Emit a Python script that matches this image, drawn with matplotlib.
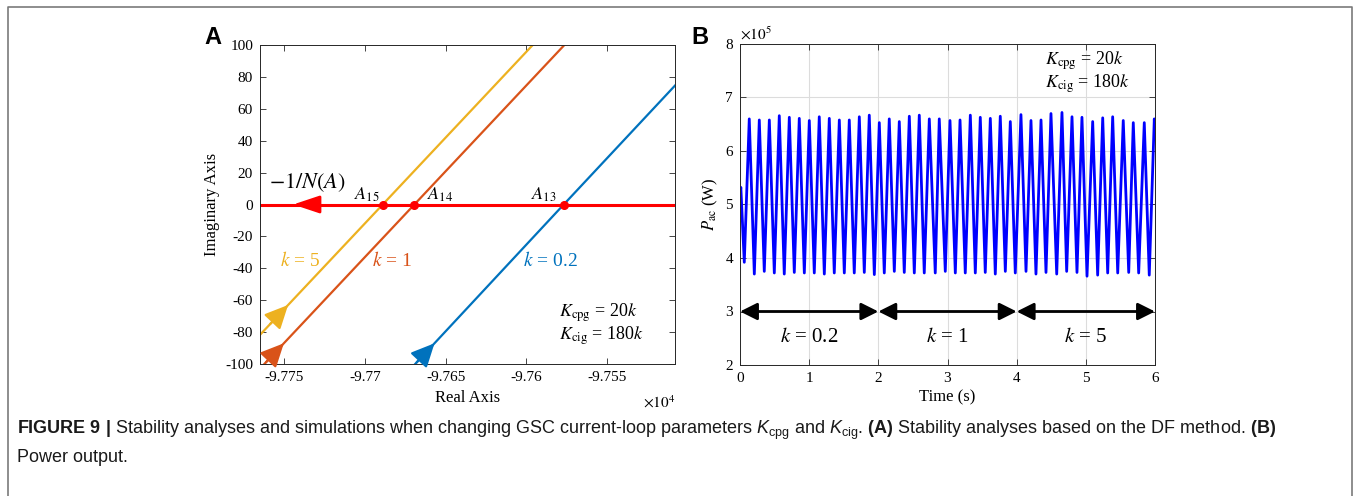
import numpy as np
import matplotlib.pyplot as plt
from matplotlib.lines import Line2D

plt.rcParams['font.family'] = ['Liberation Serif', 'DejaVu Serif']
plt.rcParams['mathtext.fontset'] = 'stix'
plt.rcParams['mathtext.rm'] = 'Liberation Sans'
plt.rcParams['mathtext.it'] = 'Liberation Sans:italic'
plt.rcParams['mathtext.bf'] = 'Liberation Sans:bold'

# ---- panel A data (real axis in units of 1e4) ----
k5_real = [-9.77820, -9.76890, -9.75961]
k5_imag = [-100, 0, 100]
k1_real = [-9.77623, -9.76694, -9.75765]
k1_imag = [-100, 0, 100]
k02_real = [-9.76689, -9.75769, -9.75076]
k02_imag = [-100, 0, 75]
df_real = [-9.7765, -9.7508]
df_imag = [0, 0]
cross_real = [-9.76890, -9.76694, -9.75769]
cross_names = ['$A_{15}$', '$A_{14}$', '$A_{13}$']
xt_a = [-9.775, -9.77, -9.765, -9.76, -9.755]
xt_a_lab = ['-9.775', '-9.77', '-9.765', '-9.76', '-9.755']
yt_a = [-100, -80, -60, -40, -20, 0, 20, 40, 60, 80, 100]

# ---- panel B data (power in units of 1e5 W) ----
start_t = [0.0, 0.012]
start_p = [5.20, 5.32]
trough_t = [0.062, 0.207, 0.351, 0.496, 0.640, 0.785, 0.930, 1.074, 1.219, 1.363,
            1.508, 1.652, 1.797, 1.942, 2.086, 2.231, 2.375, 2.520, 2.664, 2.823,
            2.968, 3.113, 3.257, 3.402, 3.546, 3.691, 3.836, 3.980, 4.135, 4.279,
            4.424, 4.579, 4.723, 4.872, 5.017, 5.171, 5.316, 5.461, 5.620, 5.764, 5.917]
trough_p = [3.92, 3.70, 3.75, 3.72, 3.70, 3.73, 3.72, 3.72, 3.70, 3.72,
            3.72, 3.72, 3.73, 3.69, 3.72, 3.75, 3.73, 3.72, 3.72, 3.72,
            3.75, 3.72, 3.72, 3.72, 3.73, 3.70, 3.75, 3.72, 3.75, 3.70,
            3.73, 3.70, 3.75, 3.73, 3.66, 3.68, 3.72, 3.72, 3.73, 3.72, 3.68]
peak_t = [0.134, 0.279, 0.424, 0.568, 0.713, 0.857, 1.002, 1.146, 1.291, 1.436,
          1.580, 1.725, 1.869, 2.014, 2.158, 2.303, 2.448, 2.592, 2.737, 2.881,
          3.036, 3.181, 3.330, 3.474, 3.619, 3.763, 3.908, 4.062, 4.207, 4.352,
          4.496, 4.655, 4.800, 4.944, 5.099, 5.244, 5.388, 5.541, 5.686, 5.845, 5.990]
peak_p = [6.60, 6.58, 6.58, 6.66, 6.63, 6.61, 6.57, 6.64, 6.61, 6.58,
          6.58, 6.64, 6.67, 6.53, 6.60, 6.55, 6.65, 6.67, 6.60, 6.60,
          6.57, 6.58, 6.67, 6.63, 6.61, 6.65, 6.55, 6.68, 6.57, 6.58,
          6.70, 6.72, 6.64, 6.63, 6.55, 6.62, 6.64, 6.57, 6.53, 6.53, 6.60]
end_t = [6.0]
end_p = [6.22]
seg_edges = [0, 2, 4, 6]
seg_labels = ['$k$ = 0.2', '$k$ = 1', '$k$ = 5']

blue = '#0072BD'
orange = '#D95319'
yellow = '#EDB120'

fig = plt.figure(figsize=(13.56, 4.96), dpi=100)

# ================= panel A =================
ax = fig.add_axes([260/1356, 132/496, 415/1356, 319/496])
ax.plot(k5_real, k5_imag, color=yellow, lw=1.6)
ax.plot(k1_real, k1_imag, color=orange, lw=1.6)
ax.plot(k02_real, k02_imag, color=blue, lw=1.6)
ax.plot(df_real, df_imag, color='#FF0000', lw=2.2)
ax.plot(cross_real, [0]*3, 'o', color='#FF0000', ms=5.5)

# direction arrows on the curves
for re, im, c, ytip in [(k5_real, k5_imag, yellow, -63),
                        (k1_real, k1_imag, orange, -87),
                        (k02_real, k02_imag, blue, -87)]:
    x_tip = np.interp(ytip, im, re)
    x_tail = np.interp(ytip - 12, im, re)
    ax.annotate('', xy=(x_tip, ytip), xytext=(x_tail, ytip - 12),
                arrowprops=dict(arrowstyle='-|>,head_length=0.8,head_width=0.38',
                                color=c, lw=1.6, mutation_scale=18,
                                shrinkA=0, shrinkB=0))
ax.annotate('', xy=(-9.77445, 0), xytext=(-9.7730, 0),
            arrowprops=dict(arrowstyle='-|>,head_length=0.9,head_width=0.3',
                            color='#FF0000', lw=2, mutation_scale=18,
                            shrinkA=0, shrinkB=0))

ax.text(-9.77358, 14, '$-1/N(A)$', fontsize=16, ha='center', va='center')
for xr, nm in zip([-9.76988, -9.76533, -9.75894], cross_names):
    ax.text(xr, 6, nm, fontsize=13, ha='center', va='center')
ax.text(-9.77402, -35, '$k$ = 5', color=yellow, fontsize=14, ha='center', va='center')
ax.text(-9.76833, -35, '$k$ = 1', color=orange, fontsize=14, ha='center', va='center')
ax.text(-9.75851, -35, '$k$ = 0.2', color=blue, fontsize=14, ha='center', va='center')
ax.text(-9.75801, -67.7, '$K_{\\mathrm{cpg}}$ = 20$k$', fontsize=13, ha='left', va='center')
ax.text(-9.75801, -82.4, '$K_{\\mathrm{cig}}$ = 180$k$', fontsize=13, ha='left', va='center')

ax.set_xlim(-9.7765, -9.7508)
ax.set_ylim(-100, 100)
ax.set_xticks(xt_a)
ax.set_xticklabels(xt_a_lab)
ax.set_yticks(yt_a)
ax.set_yticklabels([str(v) for v in yt_a])
ax.set_xlabel('Real Axis', fontsize=12, labelpad=4)
ax.set_ylabel('Imaginary Axis', fontsize=12, labelpad=4)
ax.text(1.0, -0.12, '$\\times10^{4}$', transform=ax.transAxes, fontsize=11,
        ha='right', va='center')
fig.text(213/1356, 1 - 38/496, 'A', fontsize=17, fontweight='bold',
         family='Liberation Sans', ha='center', va='center')

# ================= panel B =================
bx = fig.add_axes([740/1356, 131/496, 415/1356, 321/496])
wave_t = np.concatenate([start_t, np.column_stack([trough_t, peak_t]).ravel(), end_t])
wave_p = np.concatenate([start_p, np.column_stack([trough_p, peak_p]).ravel(), end_p])
bx.plot(wave_t, wave_p, color='#0000FF', lw=2.0, solid_joinstyle='round')

for a, b in zip(seg_edges[:-1], seg_edges[1:]):
    bx.annotate('', xy=(a, 3), xytext=(b, 3),
                arrowprops=dict(arrowstyle='<|-|>,head_length=0.8,head_width=0.4',
                                color='k', lw=2, mutation_scale=13,
                                shrinkA=0, shrinkB=0))
for a, b, lab in zip(seg_edges[:-1], seg_edges[1:], seg_labels):
    bx.text((a + b) / 2, 2.52, lab, fontsize=15, ha='center', va='center')
bx.text(4.41, 7.69, '$K_{\\mathrm{cpg}}$ = 20$k$', fontsize=13, ha='left', va='center')
bx.text(4.41, 7.26, '$K_{\\mathrm{cig}}$ = 180$k$', fontsize=13, ha='left', va='center')

bx.set_xlim(0, 6)
bx.set_ylim(2, 8)
bx.set_xticks(range(0, 7))
bx.set_yticks(range(2, 9))
bx.grid(True, color='#dcdcdc', lw=0.8)
bx.set_axisbelow(True)
bx.set_xlabel('Time (s)', fontsize=12, labelpad=3)
bx.set_ylabel('$P_{\\mathrm{ac}}$ (W)', fontsize=12, labelpad=4)
bx.text(0.0, 1.005, '$\\times10^{5}$', transform=bx.transAxes, fontsize=11,
        ha='left', va='bottom')
fig.text(700/1356, 1 - 37/496, 'B', fontsize=17, fontweight='bold',
         family='Liberation Sans', ha='center', va='center')

for a_ in (ax, bx):
    a_.tick_params(direction='in', top=True, right=True, labelsize=11,
                   length=4, width=0.6, color='#262626', pad=5)
    for s in a_.spines.values():
        s.set_linewidth(0.7)
        s.set_color('#262626')

# ================= caption and frame =================
cap1 = ('$\\mathbf{FIGURE\\ 9\\ |}$ Stability analyses and simulations when changing '
        'GSC current-loop parameters $\\mathit{K}_{\\mathrm{cpg}}$ and '
        '$\\mathit{K}_{\\mathrm{cig}}$. $\\mathbf{(A)}$ Stability analyses based on the '
        'DF method. $\\mathbf{(B)}$')
fig.text(17/1356, 1 - 434/496, cap1, fontsize=13.0, family='Liberation Sans',
         math_fontfamily='custom', ha='left', va='baseline', color='#1a1a1a')
fig.text(17/1356, 1 - 462/496, 'Power output.', fontsize=13.0, family='Liberation Sans',
         ha='left', va='baseline', color='#1a1a1a')

fx = lambda px: px / 1356
fy = lambda py: 1 - py / 496
fig.add_artist(Line2D([fx(8), fx(8), fx(1351.5), fx(1351.5)],
                      [fy(496), fy(6.5), fy(6.5), fy(496)],
                      color='#7a7a7a', lw=1.2))

fig.savefig('out.png', dpi=100)
